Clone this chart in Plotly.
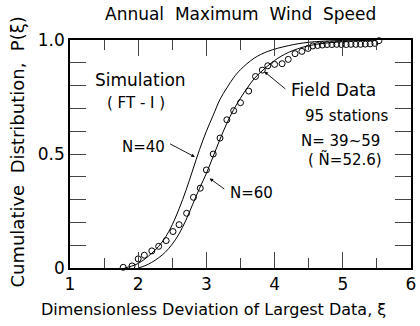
import plotly.graph_objects as go

# Field data (circles)
field_x = [1.78, 1.91, 2.00, 2.09, 2.20, 2.30, 2.41, 2.51, 2.60, 2.71, 2.81, 2.91, 3.00, 3.10,
           3.20, 3.30, 3.40, 3.50, 3.62, 3.72, 3.82, 3.90, 4.00, 4.11, 4.20, 4.30, 4.40, 4.49,
           4.56, 4.63, 4.70, 4.77, 4.84, 4.91, 4.98, 5.05, 5.12, 5.19, 5.26, 5.33, 5.40, 5.47, 5.53]
field_y = [0.003, 0.009, 0.040, 0.056, 0.075, 0.095, 0.120, 0.160, 0.190, 0.240, 0.310, 0.350, 0.430, 0.500,
           0.570, 0.650, 0.690, 0.725, 0.776, 0.840, 0.868, 0.887, 0.893, 0.896, 0.915, 0.940, 0.950, 0.963,
           0.974, 0.976, 0.978, 0.980, 0.980, 0.981, 0.980, 0.980, 0.981, 0.981, 0.981, 0.982, 0.983, 0.985, 0.997]

# Simulation curves (FT-I)
n40_x = [1.80, 1.90, 2.00, 2.10, 2.20, 2.30, 2.40, 2.50, 2.60, 2.70, 2.80, 2.90, 3.00, 3.10, 3.20,
         3.30, 3.40, 3.50, 3.70, 3.90, 4.20, 4.50, 5.00, 5.50]
n40_y = [0.0, 0.008, 0.020, 0.040, 0.065, 0.095, 0.135, 0.190, 0.260, 0.340, 0.430, 0.520, 0.600, 0.670, 0.740,
         0.790, 0.835, 0.870, 0.920, 0.950, 0.975, 0.990, 0.998, 1.0]
n60_x = [2.00, 2.10, 2.20, 2.30, 2.40, 2.50, 2.60, 2.70, 2.80, 2.90, 3.00, 3.10, 3.20, 3.30, 3.40,
         3.50, 3.60, 3.70, 3.80, 4.00, 4.20, 4.50, 5.00, 5.50]
n60_y = [0.0, 0.010, 0.025, 0.045, 0.070, 0.105, 0.150, 0.210, 0.280, 0.350, 0.415, 0.490, 0.565, 0.635, 0.695,
         0.745, 0.790, 0.830, 0.860, 0.910, 0.945, 0.975, 0.993, 1.0]

y_ticks = [0, 0.5, 1.0]
y_tick_text = ["0", "0.5", "1.0"]

FONT = "DejaVu Sans"
TICKFONT = dict(family=FONT, size=17, color="black")

fig = go.Figure()
for xs, ys in [(n40_x, n40_y), (n60_x, n60_y)]:
    fig.add_trace(go.Scatter(x=xs, y=ys, mode="lines", line=dict(color="black", width=1, shape="spline"),
                             showlegend=False, hoverinfo="skip"))
fig.add_trace(go.Scatter(x=field_x, y=field_y, mode="markers",
                         marker=dict(symbol="circle-open", size=6, color="black", line=dict(width=1)),
                         showlegend=False, cliponaxis=False))
# empty trace so the tick-only overlay axes get drawn
fig.add_trace(go.Scatter(x=[], y=[], xaxis="x2", yaxis="y2", showlegend=False, hoverinfo="skip"))

fig.update_layout(
    width=420, height=326,
    margin=dict(l=70, r=4, t=40, b=58),
    paper_bgcolor="white", plot_bgcolor="white",
    # label-carrying axes (frame + numbers)
    xaxis=dict(range=[1, 6], tickmode="linear", tick0=1, dtick=1, ticks="",
               showline=True, linecolor="black", linewidth=1.5, mirror=True,
               showgrid=False, zeroline=False, tickfont=TICKFONT),
    yaxis=dict(range=[0, 1], tickmode="array", tickvals=y_ticks, ticktext=y_tick_text, ticks="",
               showline=True, linecolor="black", linewidth=1.5, mirror=True,
               showgrid=False, zeroline=False, tickfont=TICKFONT),
    # tick-only overlay axes (no labels)
    xaxis2=dict(overlaying="x", anchor="y2", side="bottom", range=[1, 6], tick0=1, dtick=1,
                ticks="inside", ticklen=16, showticklabels=False, showline=False, mirror="ticks",
                showgrid=False, zeroline=False,
                minor=dict(ticks="inside", dtick=0.5, ticklen=10)),
    yaxis2=dict(overlaying="y", anchor="x2", side="left", range=[0, 1], tick0=0, dtick=0.1,
                ticks="inside", ticklen=16, showticklabels=False, showline=False, mirror="ticks",
                showgrid=False, zeroline=False),
)

def txt(x, y, s, size=13, xref="x", yref="y", angle=0):
    fig.add_annotation(x=x, y=y, xref=xref, yref=yref, text=s, showarrow=False,
                       font=dict(size=size, family=FONT, color="black"), textangle=angle,
                       xanchor="center", yanchor="middle")

def arrow(x0, y0, x1, y1):
    fig.add_annotation(x=x1, y=y1, ax=x0, ay=y0, xref="x", yref="y", axref="x", ayref="y",
                       text="", showarrow=True, arrowhead=2, arrowsize=0.8, arrowwidth=0.9,
                       arrowcolor="black", standoff=0, startstandoff=0)

txt(0.5, 1.114, "Annual  Maximum  Wind  Speed", size=17, xref="paper", yref="paper")
txt(0.422, -0.18, "Dimensionless Deviation of Largest Data, ξ", size=16, xref="paper", yref="paper")
txt(-0.153, 0.51, "Cumulative  Distribution,  P(ξ)", size=18, xref="paper", yref="paper", angle=-90)

txt(2.03, 0.825, "Simulation", size=17)
txt(1.97, 0.724, "( FT - I )", size=15)
txt(2.08, 0.53, "N=40", size=15)
txt(3.66, 0.33, "N=60", size=15)
txt(4.87, 0.78, "Field Data", size=17)
txt(5.06, 0.665, "95 stations", size=15)
txt(4.97, 0.555, "N= 39~59", size=15)
txt(5.03, 0.475, "( Ñ=52.6)", size=15)

arrow(2.445, 0.548, 2.831, 0.487)
arrow(3.283, 0.342, 3.048, 0.393)
arrow(4.18, 0.78, 3.851, 0.861)

fig.write_html("out.html")
